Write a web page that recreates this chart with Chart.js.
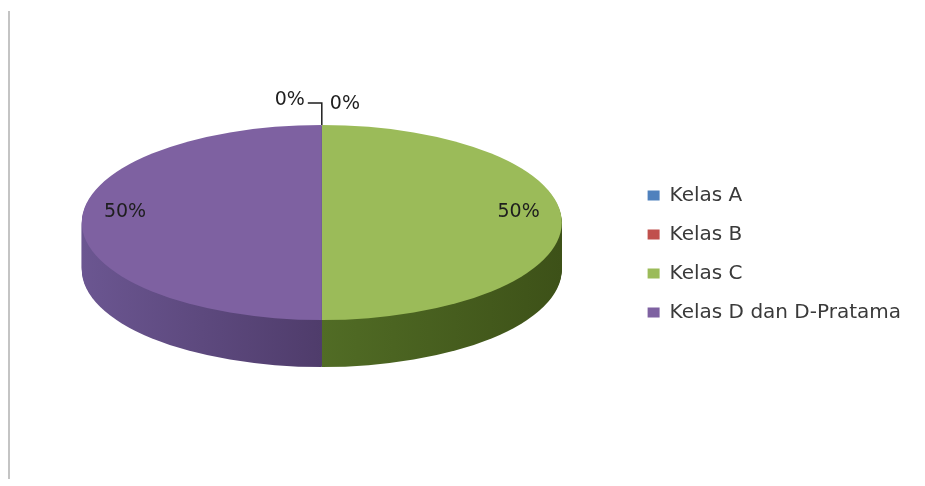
<!DOCTYPE html>
<html>
<head>
<meta charset="utf-8">
<script src="https://cdn.jsdelivr.net/npm/chart.js@4"></script>
<style>
  html, body { margin: 0; padding: 0; background: #fff; }
  #wrap { position: relative; width: 925px; height: 486px; }
  #edge { position: absolute; left: 8px; top: 11px; width: 2px; height: 468px; background: #c4c4c4; }
  canvas { position: absolute; left: 0; top: 0; }
</style>
</head>
<body>
<div id="wrap">
  <div id="edge"></div>
  <canvas id="pie" width="925" height="486"></canvas>
</div>
<script>
'use strict'

// kelas dan persentasenya
const categories = ['Kelas A', 'Kelas B', 'Kelas C', 'Kelas D dan D-Pratama'];
const shares = [0, 0, 50, 50];

const topColors = ['#4F81BD', '#C0504D', '#9BBB59', '#7E61A1'];
// warna sisi tebal pie: [tepi kiri, tengah, tepi kanan]
const sideShades = [
  ['#3b5f8c', '#3b5f8c', '#3b5f8c'],
  ['#8f3b39', '#8f3b39', '#8f3b39'],
  ['#516c25', '#516c25', '#3d5118'],
  ['#6b5691', '#4f3c6b', '#4f3c6b']
];

const depth = 47;            // tebal pie (px)
const tilt = 97.5 / 240;     // perbandingan tinggi/lebar elips
const labelFont = '19px "DejaVu Sans"';

// gambar pie 3D: gepengkan lingkaran jadi elips, lalu tumpuk sisinya
const pie3d = {
  id: 'pie3d',
  beforeDatasetsDraw(chart) {
    const ctx = chart.ctx;
    const arcs = chart.getDatasetMeta(0).data;
    const cx = arcs[0].x, cy0 = arcs[0].y, r = arcs[0].outerRadius;
    const cy = cy0 - depth / 2;
    ctx.save();
    ctx.translate(0, cy);
    ctx.scale(1, tilt);
    ctx.translate(0, -cy0);

    const fills = arcs.map((arc, i) => {
      const g = ctx.createLinearGradient(cx - r, 0, cx + r, 0);
      g.addColorStop(0, sideShades[i][0]);
      g.addColorStop(0.5, sideShades[i][1]);
      g.addColorStop(1, sideShades[i][2]);
      return g;
    });

    for (let d = depth; d > 0; d--) {
      arcs.forEach((arc, i) => {
        if (arc.circumference === 0) return;
        const saved = arc.options;
        arc.options = Object.assign({}, saved, { backgroundColor: fills[i], borderWidth: 0 });
        ctx.save();
        ctx.translate(0, d / tilt);
        arc.draw(ctx);
        ctx.restore();
        arc.options = saved;
      });
    }
  },
  afterDatasetsDraw(chart) {
    const ctx = chart.ctx;
    ctx.restore();

    const arcs = chart.getDatasetMeta(0).data;
    const data = chart.data.datasets[0].data;
    const total = data.reduce((a, b) => a + b, 0);
    const cx = arcs[0].x, r = arcs[0].outerRadius;
    const cy = arcs[0].y - depth / 2;

    ctx.save();
    ctx.font = labelFont;
    ctx.fillStyle = '#1e1e1e';
    ctx.strokeStyle = '#1e1e1e';
    ctx.lineWidth = 1.5;
    ctx.textBaseline = 'middle';
    let zeroCount = 0;
    arcs.forEach((arc, i) => {
      const text = Math.round(data[i] / total * 100) + '%';
      if (arc.circumference === 0) {
        // label 0% di tepi atas, pakai garis penunjuk
        const ex = cx + Math.cos(arc.startAngle) * r;
        const ey = cy + Math.sin(arc.startAngle) * r * tilt;
        if (zeroCount === 0) {
          ctx.beginPath();
          ctx.moveTo(ex, ey);
          ctx.lineTo(ex, ey - 22);
          ctx.lineTo(ex - 14, ey - 22);
          ctx.stroke();
          ctx.textAlign = 'right';
          ctx.fillText(text, ex - 17, ey - 25);
        } else {
          ctx.textAlign = 'left';
          ctx.fillText(text, ex + 8, ey - 21);
        }
        zeroCount++;
        return;
      }
      const mid = (arc.startAngle + arc.endAngle) / 2;
      ctx.textAlign = 'center';
      ctx.fillText(text, cx + Math.cos(mid) * r * 0.82, cy + Math.sin(mid) * r * 0.82 * tilt - 10);
    });
    ctx.restore();
  }
};

const ctx = document.getElementById('pie').getContext('2d');
const chart = new Chart(ctx, {
  type: 'pie',
  data: {
    labels: categories,
    datasets: [{
      data: shares,
      backgroundColor: topColors,
      borderWidth: 0
    }]
  },
  options: {
    responsive: false,
    animation: false,
    devicePixelRatio: 1,
    layout: { padding: { left: 15, right: 14, top: 6, bottom: 0 } },
    plugins: {
      tooltip: { enabled: false },
      legend: {
        position: 'right',
        // judul kosong hanya untuk menggeser daftar sedikit ke bawah
        title: { display: true, text: '', font: { size: 10 }, padding: { top: 4, bottom: 0 } },
        labels: {
          boxWidth: 12,
          boxHeight: 10,
          padding: 19,
          color: '#3a3a3a',
          font: { family: 'DejaVu Sans', size: 20 }
        }
      }
    }
  },
  plugins: [pie3d]
});
</script>
</body>
</html>
